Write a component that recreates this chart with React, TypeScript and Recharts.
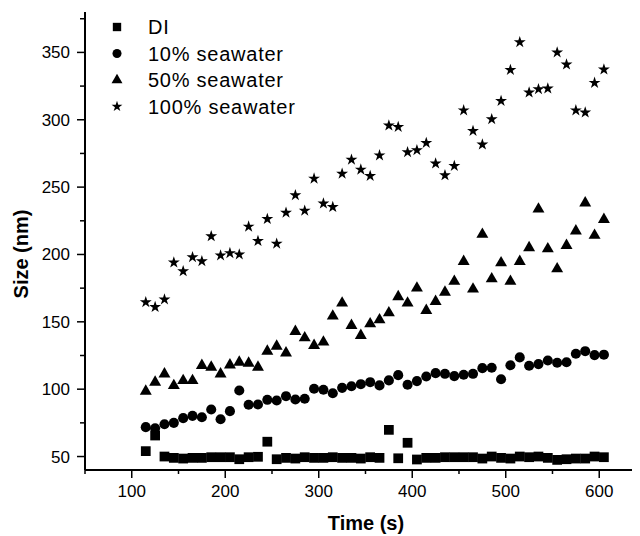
import React from 'react';
import { ScatterChart, Scatter, XAxis, YAxis, Symbols } from 'recharts';

const times = [115, 125, 135, 145, 155, 165, 175, 185, 195, 205, 215, 225, 235, 245, 255, 265, 275, 285, 295, 305, 315, 325, 335, 345, 355, 365, 375, 385, 395, 405, 415, 425, 435, 445, 455, 465, 475, 485, 495, 505, 515, 525, 535, 545, 555, 565, 575, 585, 595, 605];

const diSize = [54, 65.6, 50, 49, 48.5, 49, 49, 49.5, 49.5, 49.5, 48, 49.5, 49.8, 61, 48, 49, 48.5, 49.5, 49, 49, 49.5, 49, 49, 48.5, 49.5, 49, 69.8, 48.7, 60.2, 47.8, 49, 49, 49.5, 49.5, 49.5, 49.5, 48.5, 50, 49, 48.5, 50, 49.5, 50, 49, 47.5, 48, 48.5, 48.5, 50, 49.5];

const sea10Size = [71.8, 71, 74, 75, 78.5, 80.2, 79.2, 84.9, 77.7, 83.7, 99, 88.4, 88.6, 92.1, 91.6, 94.8, 92.3, 92.9, 100.3, 99.6, 97, 101, 102.2, 103.7, 105.2, 102.8, 106.5, 110.4, 103.3, 106, 109.4, 111.9, 111.4, 109.7, 110.7, 111.4, 115.6, 115.9, 107.4, 117.8, 123.6, 117.4, 118.6, 121.3, 119.6, 120, 126.3, 128.2, 125.3, 125.6];

const sea50Size = [98.5, 105.2, 111.3, 102.7, 106.4, 106.4, 117.6, 116.3, 111.3, 118, 120, 119.3, 116.3, 128.2, 131.9, 126.9, 142.8, 138.1, 132.4, 134.9, 154.2, 163.9, 147.3, 139.9, 148.5, 151.5, 156.7, 168.6, 163.9, 175, 158.4, 165.1, 172, 180, 194.8, 174.3, 214.9, 181.9, 193.8, 180, 194.8, 205, 233.7, 204.2, 189.3, 206.7, 217.4, 238.2, 214.2, 226];

const sea100Size = [164.6, 161, 166.6, 194, 187.5, 198, 195, 213.5, 199.3, 201, 200, 220.7, 210, 226.3, 208, 231, 244, 232.5, 256.3, 237.8, 235.2, 260, 270.4, 263, 258.3, 273.6, 295.7, 294.7, 275.9, 277.4, 282.8, 267.5, 258.8, 265.7, 307, 291.7, 281.6, 300.4, 314, 337, 357.6, 320.2, 322.7, 323.2, 350, 341, 307, 305.4, 327.4, 337.3];

const seriesNames = ['DI', '10% seawater', '50% seawater', '100% seawater'];
const xTicks = [50, 100, 150, 200, 250, 300, 350, 400, 450, 500, 550, 600];
const xMajorTicks = [100, 200, 300, 400, 500, 600];
const yTicks = [50, 75, 100, 125, 150, 175, 200, 225, 250, 275, 300, 325, 350, 375];
const yMajorTicks = [50, 100, 150, 200, 250, 300, 350];

const FONT = "'Liberation Sans', Arial, sans-serif";

const toData = (vals: number[]) => times.map((t, i) => ({ t, v: vals[i] }));

const series = [
  { name: seriesNames[0], data: toData(diSize), type: 'square', size: 95, legendSize: 70 },
  { name: seriesNames[1], data: toData(sea10Size), type: 'circle', size: 80, legendSize: 64 },
  { name: seriesNames[2], data: toData(sea50Size), type: 'triangle', size: 62, legendSize: 52 },
  { name: seriesNames[3], data: toData(sea100Size), type: 'star', size: 44, legendSize: 36 },
];

const XTick = (props: any) => {
  const { x, y, payload } = props;
  const v = payload.value;
  const major = xMajorTicks.includes(v);
  return (
    <g>
      <line x1={x} y1={y} x2={x} y2={y + (major ? 8 : 4)} stroke="#000" strokeWidth={1.5} />
      {major && (
        <text x={x} y={y + 27} textAnchor="middle" fontSize={17} fontFamily={FONT} fill="#000">
          {v}
        </text>
      )}
    </g>
  );
};

const YTick = (props: any) => {
  const { x, y, payload } = props;
  const v = payload.value;
  const major = yMajorTicks.includes(v);
  return (
    <g>
      <line x1={x} y1={y} x2={x - (major ? 8 : 5)} y2={y} stroke="#000" strokeWidth={1.5} />
      {major && (
        <text x={x - 15} y={y + 6} textAnchor="end" fontSize={17} fontFamily={FONT} fill="#000">
          {v}
        </text>
      )}
    </g>
  );
};

const makeShape = (type: any, size: number) => (props: any) => (
  <Symbols cx={props.cx} cy={props.cy} type={type} size={size} fill="#000" stroke="none" />
);

export default function App() {
  return (
    <div style={{ width: 632, height: 528, background: '#fff' }}>
      <ScatterChart width={632} height={528} margin={{ top: 4, right: 0, bottom: 0, left: 0 }}>
        <XAxis
          type="number"
          dataKey="t"
          domain={[50, 643.6]}
          ticks={xTicks}
          allowDataOverflow
          interval={0}
          height={66}
          tickSize={0}
          tickMargin={0}
          tickLine={false}
          tick={<XTick />}
          stroke="#000"
          axisLine={{ stroke: '#000', strokeWidth: 2 }}
        />
        <YAxis
          type="number"
          dataKey="v"
          domain={[40, 380]}
          ticks={yTicks}
          allowDataOverflow
          interval={0}
          width={77}
          tickSize={0}
          tickMargin={0}
          tickLine={false}
          tick={<YTick />}
          stroke="#000"
          axisLine={{ stroke: '#000', strokeWidth: 2 }}
        />
        {series.map((s) => (
          <Scatter
            key={s.name}
            name={s.name}
            data={s.data}
            fill="#000"
            isAnimationActive={false}
            shape={makeShape(s.type, s.size)}
          />
        ))}
        <g>
          {series.map((s, i) => (
            <g key={s.name}>
              <Symbols cx={109} cy={19 + i * 26.5} type={s.type as any} size={s.legendSize} fill="#000" />
              <text x={140} y={19 + i * 26.5 + 7} fontSize={20} fontFamily={FONT} fill="#000" letterSpacing={0.75}>
                {s.name}
              </text>
            </g>
          ))}
        </g>
        <text x={358} y={522} textAnchor="middle" fontSize={20} fontWeight="bold" fontFamily={FONT} fill="#000">
          Time (s)
        </text>
        <text transform="translate(20,246) rotate(-90)" textAnchor="middle" fontSize={20} fontWeight="bold" fontFamily={FONT} fill="#000">
          Size (nm)
        </text>
      </ScatterChart>
    </div>
  );
}
